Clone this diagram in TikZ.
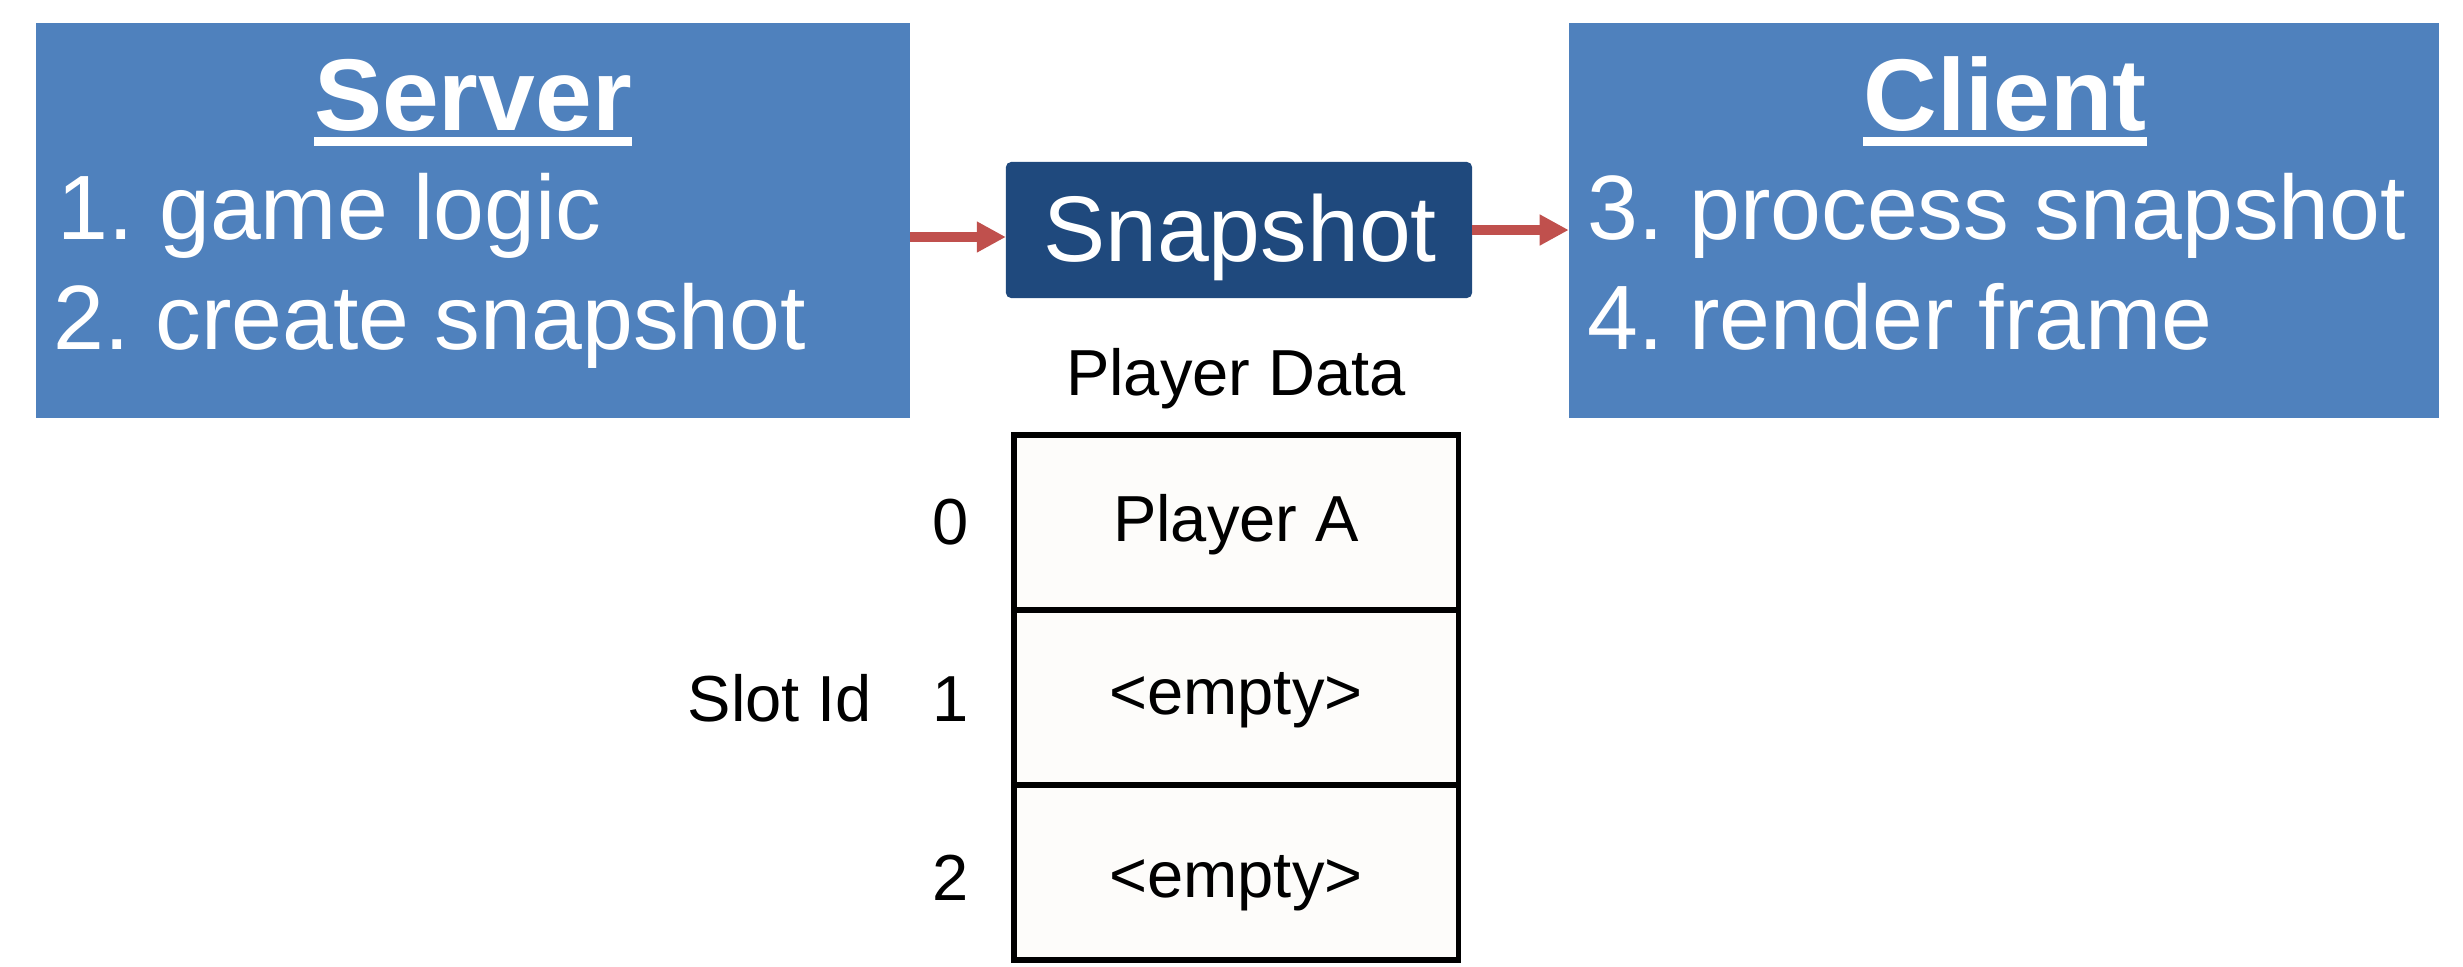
\documentclass[tikz,border=0pt]{standalone}
\usepackage{fontspec}
\setmainfont{Liberation Sans}
\usetikzlibrary{arrows.meta}
\frenchspacing
\definecolor{boxblue}{RGB}{79,129,189}
\definecolor{darkblue}{RGB}{31,73,125}
\definecolor{arrred}{RGB}{192,80,77}
\definecolor{cellfill}{RGB}{253,252,250}
\newcommand\thickul[1]{\setbox0\hbox{#1}\rlap{\rule[-0.16cm]{\wd0}{0.095cm}}\box0}
\tikzset{
  bigbox/.style={draw=none, fill=boxblue, inner sep=0pt, outer sep=0pt, minimum height=3.95cm},
  snapbox/.style={draw=none, fill=darkblue, rounded corners=1.5pt, inner sep=0pt, outer sep=0pt, minimum width=4.66cm, minimum height=1.36cm},
  cell/.style={draw=black, line width=1.5pt, fill=cellfill, inner sep=0pt, outer sep=0pt, minimum width=4.44cm, minimum height=1.75cm},
  titletext/.style={anchor=base, text=white, inner sep=0pt, font=\fontsize{29}{34}\selectfont\bfseries},
  itemtext/.style={anchor=base west, text=white, inner sep=0pt, font=\fontsize{26}{30}\selectfont},
  smalltext/.style={inner sep=0pt, font=\fontsize{18.5}{22}\selectfont},
  redarrow/.style={draw=arrred, line width=3.1pt, -{Triangle[length=0.29cm, width=0.29cm]}}
}
\begin{document}
\begin{tikzpicture}[x=0.01cm, y=-0.01cm]
\useasboundingbox (0,0) rectangle (2463,966);
% main boxes
\node[bigbox, minimum width=8.74cm] (server) at (473,220.5) {};
\node[bigbox, minimum width=8.70cm] (client) at (2004,220.5) {};
\node[snapbox] (snapshot) at (1239,230) {};
% texts in server
\node[titletext] (servertitle) at (473,130) {\thickul{Server}};
\node[itemtext] (s1) at (57,239) {1. game logic};
\node[itemtext] (s2) at (53,349) {2. create snapshot};
% texts in client
\node[titletext] (clienttitle) at (2005,130) {\thickul{Client}};
\node[itemtext] (c1) at (1587,239) {3. process snapshot};
\node[itemtext] (c2) at (1587,349) {4. render frame};
% snapshot text
\node[anchor=base, text=white, inner sep=0pt, font=\fontsize{26.5}{30}\selectfont] (snaptext) at (1240,261) {Snapshot};
% arrows
\coordinate (a1) at (0,237);
\draw[redarrow] (server.east |- a1) -- (snapshot.west |- a1);
\draw[redarrow] (snapshot.east) -- (client.west |- snapshot.east);
% player data table
\node[smalltext, anchor=base] (pdlabel) at (1236,395) {Player Data};
\node[cell] (row0) at (1236,522.5) {};
\node[cell] (row1) at (1236,697.5) {};
\node[cell] (row2) at (1236,872.5) {};
\node[smalltext, anchor=base] (t0) at (1236,541) {Player A};
\node[smalltext, anchor=base] (t1) at (1236,714) {<empty>};
\node[smalltext, anchor=base] (t2) at (1236,897) {<empty>};
\node[smalltext, anchor=base] (n0) at (951,544) {0};
\node[smalltext, anchor=base] (n1) at (951,721) {1};
\node[smalltext, anchor=base] (n2) at (951,900) {2};
\node[smalltext, anchor=base] (slotid) at (780,721) {Slot Id};
\end{tikzpicture}
\end{document}
